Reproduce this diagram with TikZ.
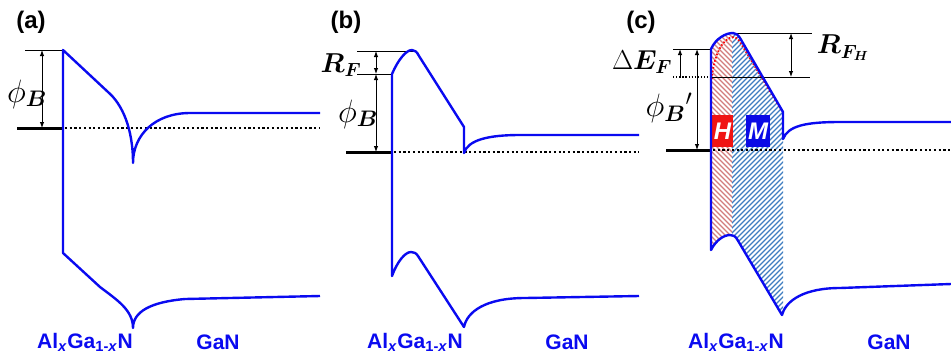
\documentclass[tikz,border=0pt]{standalone}
\usepackage{amsmath,bm}
\usepackage{fontspec}
\setsansfont{Liberation Sans}
\usetikzlibrary{arrows.meta}
\definecolor{band}{HTML}{0A0AF0}
\definecolor{hred}{HTML}{D27C7C}
\definecolor{hblue}{HTML}{3F7DC0}
\definecolor{boxred}{HTML}{F01414}
\definecolor{boxblue}{HTML}{0A0AE6}
\newcommand{\bigq}[1]{\scalebox{1.3}{#1}}

\begin{document}
\begin{tikzpicture}[x=1pt,y=-1pt,>={Latex[length=6pt,width=4.5pt]},
  bandln/.style={draw=band,line width=2.4pt,line join=round},
  tick/.style={draw=black,line width=1pt},
  efermi/.style={draw=black,line width=3pt},
  fdot/.style={draw=black,line width=2.4pt,dash pattern=on 2.2pt off 2.5pt},
  thindot/.style={draw=black,line width=1.2pt,dash pattern=on 1.3pt off 1.8pt},
  gap/.style={<->,draw=black,line width=1pt},
  panel/.style={font=\sffamily\bfseries\fontsize{24}{28}\selectfont},
  layer/.style={text=band,font=\sffamily\bfseries\fontsize{21}{25}\selectfont},
  qty/.style={inner sep=0,font=\fontsize{24}{28}\selectfont},
  hatchln/.style={line width=1.3pt},
  tag/.style={minimum width=21pt,minimum height=32pt,inner sep=0,text=white,
    font=\sffamily\bfseries\itshape\fontsize{24}{28}\selectfont}]
\useasboundingbox (0,0) rectangle (951,360);

% ============ PANEL (a) : bare AlGaN/GaN ============
\node[panel] (pa) at (31,22) {(a)};
\coordinate (aT) at (42,50);
\coordinate (aF) at (42,128);
\draw[tick] (25,50) -- (63,50);
\draw[gap] (aT) -- (aF);
\node[qty] (phia) at (27,94) {\bigq{$\phi_{\bm B}$}};
\draw[efermi] (17,128) -- (63,128);
\draw[fdot] (65,128) -- (320,128);
\draw[bandln] (320,113) -- (190,113) .. controls (155,113) and (133,135) .. (133,163)
  .. controls (133,128) and (122,104) .. (108,92) -- (63,50) -- (63,253) -- (100,287)
  .. controls (117,300) and (133,310) .. (133,328)
  .. controls (133,312) and (150,302) .. (185,299) -- (320,296);
\node[layer] (alga) at (85,342) {Al\textsubscript{\textit{x}}Ga\textsubscript{1-\textit{x}}N};
\node[layer] (gana) at (218,342) {GaN};

% ============ PANEL (b) : with R_F ============
\node[panel] (pb) at (346,22) {(b)};
\coordinate (bT) at (376,51);
\coordinate (bM) at (376,74);
\coordinate (bF) at (376,152);
\draw[tick] (357,51) -- (413,51);
\draw[tick] (357,74) -- (392,74);
\draw[gap] (bT) -- (bM);
\draw[gap] (bM) -- (bF);
\node[qty] (rfb) at (341,65) {\scalebox{1.1}{$\bm{R_F}$}};
\node[qty] (phib) at (358,114) {\bigq{$\phi_{\bm B}$}};
\draw[efermi] (346,152) -- (392,152);
\draw[fdot] (394,152) -- (639,152);
\draw[bandln] (639,135) -- (520,135) .. controls (488,135) and (468,140) .. (464,153)
  -- (464,127) -- (419,56) .. controls (417,52) and (415,50) .. (412,50)
  .. controls (406,50) and (398,60) .. (392,74) -- (392,276)
  .. controls (397,262) and (405,252) .. (411,252) .. controls (414,252) and (416,253) .. (418,256)
  -- (464,327) .. controls (467,312) and (485,298) .. (525,298) -- (639,296);
\node[layer] (algb) at (415,342) {Al\textsubscript{\textit{x}}Ga\textsubscript{1-\textit{x}}N};
\node[layer] (ganb) at (567,342) {GaN};

% ============ PANEL (c) : H and M regions ============
\node[panel] (pc) at (641,22) {(c)};
% hatched barrier
\begin{scope}
 \clip (711,250) -- (711,49) .. controls (716,38) and (726,33) .. (733,33)
   .. controls (736,33) and (738,35) .. (740,38) -- (783,112) -- (783,315) -- (780,311)
   -- (737,239) .. controls (735,236) and (733,235) .. (730,235)
   .. controls (724,235) and (716,240) .. (711,250) -- cycle;
 \begin{scope}
  \clip (711,0) rectangle (732,360);
  \foreach \s in {455,460,...,710}
   \draw[hatchln,hred] (\s,0) -- (\s+360,360);
 \end{scope}
 \begin{scope}
  \clip (732,0) rectangle (790,360);
  \foreach \s in {760,765,...,1100}
   \draw[hatchln,hblue] (\s,0) -- (\s-360,360);
 \end{scope}
\end{scope}
\draw[red,line width=1.8pt,dash pattern=on 1.5pt off 2pt]
  (712,79) .. controls (713,58) and (722,37) .. (734,37)
  .. controls (736,37) and (738,39) .. (740,42) -- (782,111);
\node[tag,fill=boxred] (hbox) at (722.5,131) {H};
\node[tag,fill=boxblue,minimum width=24pt] (mbox) at (758,131) {M};

\coordinate (cT) at (791,33);
\coordinate (cM) at (791,77);
\coordinate (dT) at (680,49);
\coordinate (dB) at (680,77);
\coordinate (pT) at (697,49);
\coordinate (pF) at (697,150);
\draw[tick] (733,33) -- (812,33);
\draw[tick] (673,49) -- (711,49);
\draw[thindot] (673,77) -- (711,77);
\draw[tick] (711,77) -- (810,77);
\draw[gap] (cT) -- (cM);
\draw[->,tick] (dB) -- (dT);
\draw[gap] (pT) -- (pF);
\node[qty] (dfc) at (642,62) {\scalebox{1.1}{$\Delta\bm{E_F}$}};
\node[qty] (phic) at (669,108) {\bigq{$\phi_{\bm B}{}'$}};
\node[qty] (rfh) at (843,48) {\scalebox{1.1}{$\bm{R_{F_H}}$}};
\draw[efermi] (666,150) -- (711,150);
\draw[fdot] (713,150) -- (951,150);
\draw[bandln] (951,122) -- (840,122) .. controls (805,122) and (788,126) .. (783,139)
  -- (783,112) -- (740,38) .. controls (738,35) and (736,33) .. (733,33)
  .. controls (726,33) and (716,38) .. (711,49) -- (711,250)
  .. controls (716,240) and (724,235) .. (730,235) .. controls (733,235) and (735,236) .. (737,239)
  -- (782,315) .. controls (786,300) and (805,288) .. (840,288) -- (951,284);
\node[layer] (algc) at (736,342) {Al\textsubscript{\textit{x}}Ga\textsubscript{1-\textit{x}}N};
\node[layer] (ganc) at (889,342) {GaN};

\end{tikzpicture}
\end{document}
